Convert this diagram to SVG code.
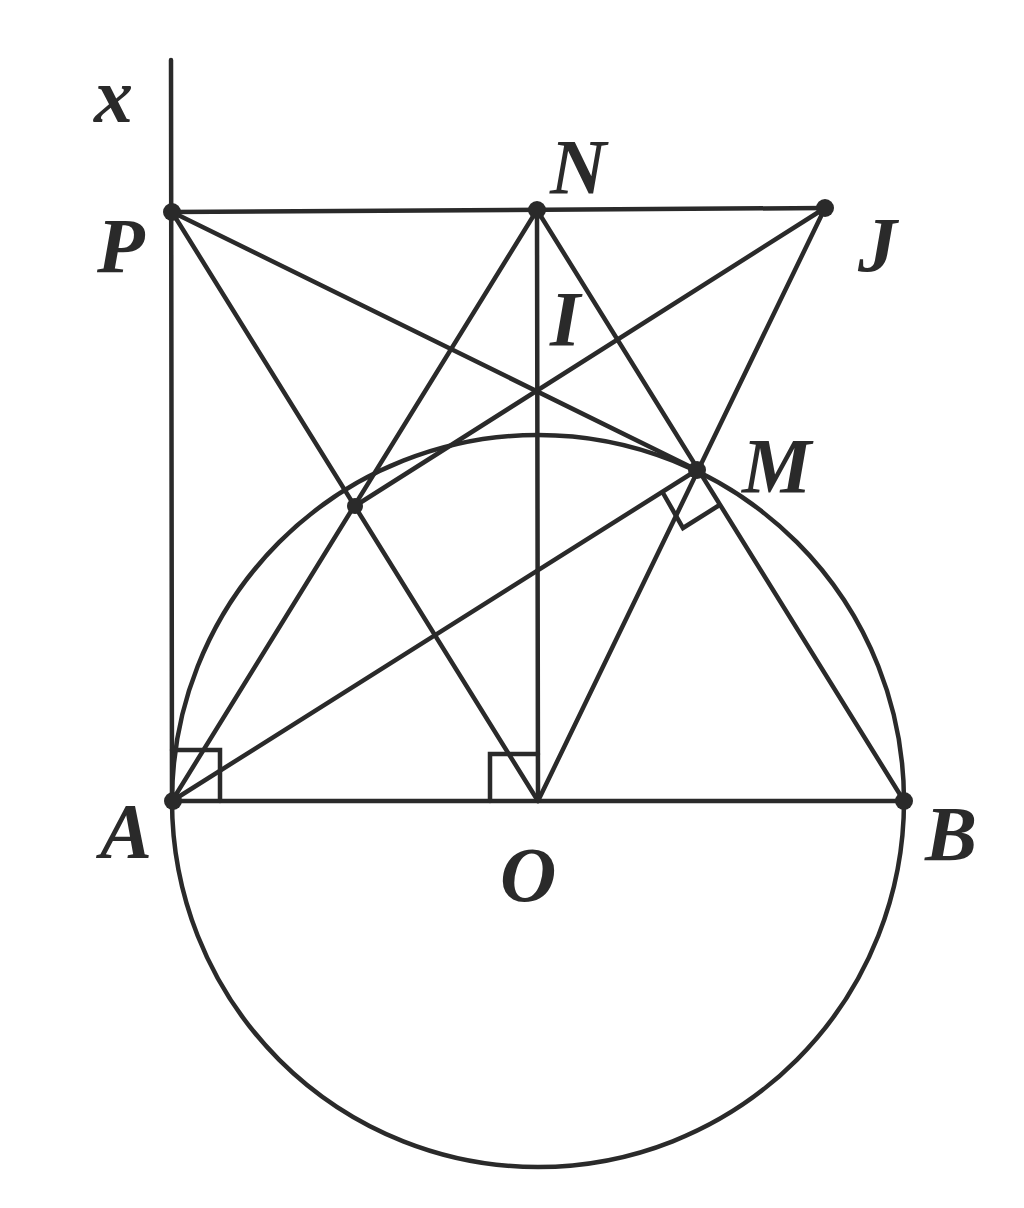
<svg xmlns="http://www.w3.org/2000/svg" width="1024" height="1208" viewBox="0 0 1024 1208">
<style>
.l{stroke:#2a2a2a;stroke-width:4.5;fill:none;stroke-linecap:round}
.d{fill:#2a2a2a}
.t{font-family:"Liberation Serif","Times New Roman",serif;font-style:italic;font-weight:bold;font-size:78px;fill:#2a2a2a}
</style>
<rect width="1024" height="1208" fill="#ffffff"/>
<g id="connectors">
<circle class="l" cx="538" cy="801" r="366"/>
<line class="l" x1="171" y1="60" x2="172" y2="801"/>
<line class="l" x1="172" y1="801" x2="904" y2="801"/>
<line class="l" x1="172" y1="212" x2="825" y2="208"/>
<line class="l" x1="172" y1="212" x2="538" y2="801"/>
<line class="l" x1="172" y1="212" x2="697" y2="470"/>
<line class="l" x1="537" y1="210" x2="538" y2="801"/>
<line class="l" x1="537" y1="210" x2="172" y2="801"/>
<line class="l" x1="537" y1="210" x2="904" y2="801"/>
<line class="l" x1="825" y1="208" x2="538" y2="801"/>
<line class="l" x1="825" y1="208" x2="355" y2="506"/>
<line class="l" x1="172" y1="801" x2="697" y2="470"/>
<polyline class="l" points="172,750 220,750 220,801"/>
<polyline class="l" points="490,801 490,754 538,754"/>
<polyline class="l" points="663,493 683,528 718,506"/>
</g>
<g id="point-P"><circle class="d" cx="172" cy="212" r="9"/><text class="t" x="97" y="272">P</text></g>
<g id="point-N"><circle class="d" cx="537" cy="210" r="9"/><text class="t" x="550" y="193">N</text></g>
<g id="point-J"><circle class="d" cx="825" cy="208" r="9"/><text class="t" x="858" y="271">J</text></g>
<g id="point-I"><text class="t" x="550" y="345">I</text></g>
<g id="point-M"><circle class="d" cx="697" cy="470" r="9"/><text class="t" x="742" y="492">M</text></g>
<g id="point-K"><circle class="d" cx="355" cy="506" r="8"/></g>
<g id="point-A"><circle class="d" cx="173" cy="801" r="9"/><text class="t" x="100" y="857">A</text></g>
<g id="point-O"><text class="t" x="500" y="901">O</text></g>
<g id="point-B"><circle class="d" cx="904" cy="801" r="9"/><text class="t" x="925" y="860">B</text></g>
<g id="label-x"><text class="t" x="94" y="122">x</text></g>
</svg>
